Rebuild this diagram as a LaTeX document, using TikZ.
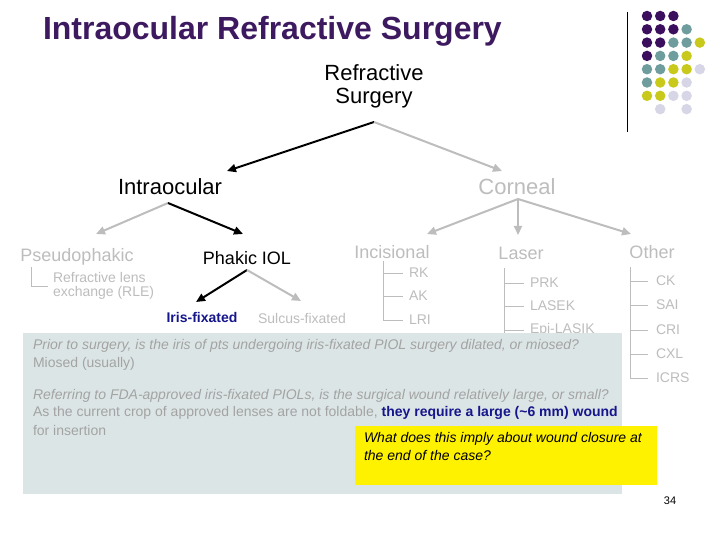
\documentclass[tikz,border=0pt]{standalone}
\usepackage{fontspec}
\setmainfont{Liberation Sans}
\usetikzlibrary{arrows.meta}
\definecolor{titlepurple}{HTML}{3D1A60}
\definecolor{dpurple}{HTML}{3C0F5E}
\definecolor{dteal}{HTML}{6F9D9D}
\definecolor{dyellow}{HTML}{C9C91C}
\definecolor{dlav}{HTML}{D6D6E6}
\definecolor{treegray}{HTML}{BDBDBD}
\definecolor{boxbg}{HTML}{DCE5E5}
\definecolor{boxtext}{HTML}{A3A3A3}
\definecolor{navy}{HTML}{16168C}
\newcommand\myfs[2]{\fontsize{#1}{#2}\selectfont}
\tikzset{
  lbl/.style={inner sep=0pt, outer sep=0pt},
  big/.style={lbl, font=\myfs{22}{23}},
  mid/.style={lbl, font=\myfs{18}{20}},
  small/.style={lbl, font=\myfs{14}{14}, text=treegray, anchor=west},
  boxline/.style={lbl, font=\myfs{14}{16}, text=boxtext, anchor=west},
  blkarrow/.style={draw=black, line width=2pt, -{Triangle[length=9pt,width=8pt]}},
  grayarrow/.style={draw=treegray, line width=2pt, -{Triangle[length=9pt,width=8pt]}},
  treeline/.style={draw=treegray, line width=1pt},
  dot/.style={circle, inner sep=0pt, minimum size=10.5pt},
}
\begin{document}
\begin{tikzpicture}[x=1pt,y=-1pt]
\useasboundingbox (0,0) rectangle (720,540);
\fill[white] (0,0) rectangle (720,540);

% title
\node[lbl, anchor=west, text=titlepurple, font=\myfs{32}{36}\bfseries] (title) at (43,31) {Intraocular Refractive Surgery};

% decorative dots and line
\draw[black, line width=1pt] (627,12) coordinate (vl1) -- (627,132) coordinate (vl2);
\foreach \c/\r/\col in {0/0/dpurple,1/0/dpurple,2/0/dpurple,
  0/1/dpurple,1/1/dpurple,2/1/dpurple,3/1/dteal,
  0/2/dpurple,1/2/dpurple,2/2/dteal,3/2/dteal,4/2/dyellow,
  0/3/dpurple,1/3/dteal,2/3/dteal,3/3/dyellow,
  0/4/dteal,1/4/dteal,2/4/dyellow,3/4/dyellow,4/4/dlav,
  0/5/dteal,1/5/dyellow,2/5/dyellow,3/5/dlav,
  0/6/dyellow,1/6/dyellow,2/6/dlav,3/6/dlav,
  1/7/dlav,3/7/dlav}
  \node[dot, fill=\col] (d\c\r) at ({647+13.2*\c},{16+13.3*\r}) {};

% top level
\node[big, align=center, font=\myfs{22}{23}] (rs) at (374,86) {Refractive\\Surgery};
\coordinate (rsb) at (374,122);
\node[big] (intra) at (170,187) {Intraocular};
\node[big, text=treegray] (corneal) at (517,187) {Corneal};
\coordinate (intraTip) at (227,171);
\coordinate (cornTip) at (502,171);
\draw[blkarrow] (rsb) -- (intraTip);
\draw[grayarrow] (rsb) -- (cornTip);

% intraocular branch
\coordinate (intb) at (168,203);
\node[mid, text=treegray] (pseudo) at (77,257) {Pseudophakic};
\node[mid] (phakic) at (247,258) {Phakic IOL};
\coordinate (pseudoTip) at (96,234);
\coordinate (phakicTip) at (243,234);
\draw[grayarrow] (intb) -- (pseudoTip);
\draw[blkarrow] (intb) -- (phakicTip);

\node[lbl, font=\myfs{14}{14}, text=treegray, anchor=west, align=left] (rle) at (53,286) {Refractive lens\\exchange (RLE)};
\coordinate (pt1) at (31,267);
\coordinate (pt2) at (31,286);
\draw[treeline] (pt1) -- (pt2) -- (rle.west -| 48,0);

\coordinate (phb) at (247,270);
\node[lbl, font=\myfs{14}{14}\bfseries, text=navy] (iris) at (202,317) {Iris-fixated};
\node[lbl, font=\myfs{14}{14}, text=treegray] (sulcus) at (302,318) {Sulcus-fixated};
\coordinate (irisTip) at (196,302);
\coordinate (sulcTip) at (301,301);
\draw[blkarrow] (phb) -- (irisTip);
\draw[grayarrow] (phb) -- (sulcTip);

% corneal branch
\coordinate (cb) at (518,199);
\node[mid, text=treegray] (incis) at (392,252) {Incisional};
\node[mid, text=treegray] (laser) at (521,253) {Laser};
\node[mid, text=treegray] (other) at (652,252) {Other};
\coordinate (incTip) at (427,234);
\coordinate (lasTip) at (518,235);
\coordinate (othTip) at (631,234);
\draw[grayarrow] (cb) -- (incTip);
\draw[grayarrow] (cb) -- (lasTip);
\draw[grayarrow] (cb) -- (othTip);

% incisional tree
\coordinate (it0) at (383,261);
\coordinate (it3) at (383,320);
\draw[treeline] (it0) -- (it3);
\foreach \t/\y/\n in {RK/273/rk,AK/296/ak,LRI/320/lri}{
  \node[small] (\n) at (409,\y) {\t};
  \draw[treeline] (383,\y) -- (403,\y);
}
% laser tree
\coordinate (lt0) at (504,268);
\coordinate (lt3) at (504,334);
\draw[treeline] (lt0) -- (lt3);
\foreach \t/\y/\n in {PRK/283/prk,LASEK/306/lasek,Epi-LASIK/330/epi}{
  \node[small] (\n) at (530,\y) {\t};
  \draw[treeline] (504,\y) -- (524,\y);
}
% other tree
\coordinate (ot0) at (630,267);
\coordinate (ot5) at (630,378);
\draw[treeline] (ot0) -- (ot5);
\foreach \t/\y/\n in {CK/281/ck,SAI/305/sai,CRI/330/cri,CXL/354/cxl,ICRS/378/icrs}{
  \node[small] (\n) at (656,\y) {\t};
  \draw[treeline] (630,\y) -- (648,\y);
}

% question box
\fill[boxbg] (23,333) rectangle (622,494);
\node[boxline] (q1) at (33,346) {\itshape Prior to surgery, is the iris of pts undergoing iris-fixated PIOL surgery dilated, or miosed?};
\node[boxline] (a1) at (33,364) {Miosed (usually)};
\node[boxline] (q2) at (33,396) {\itshape Referring to FDA-approved iris-fixated PIOLs, is the surgical wound relatively large, or small?};
\node[boxline] (a2) at (33,413) {As the current crop of approved lenses are not foldable, \textcolor{navy}{\bfseries they require a large (\textasciitilde6 mm) wound}};
\node[boxline] (a3) at (33,430) {for insertion};

% yellow box
\fill[yellow] (355,426) rectangle (657,485);
\node[lbl, font=\myfs{14}{18}\itshape, text=black, anchor=north west, align=left] (y1) at (364,432) {What does this imply about wound closure at\\the end of the case?};

% page number
\node[lbl, font=\myfs{11}{12}] (pg) at (670,501) {34};
\end{tikzpicture}
\end{document}
